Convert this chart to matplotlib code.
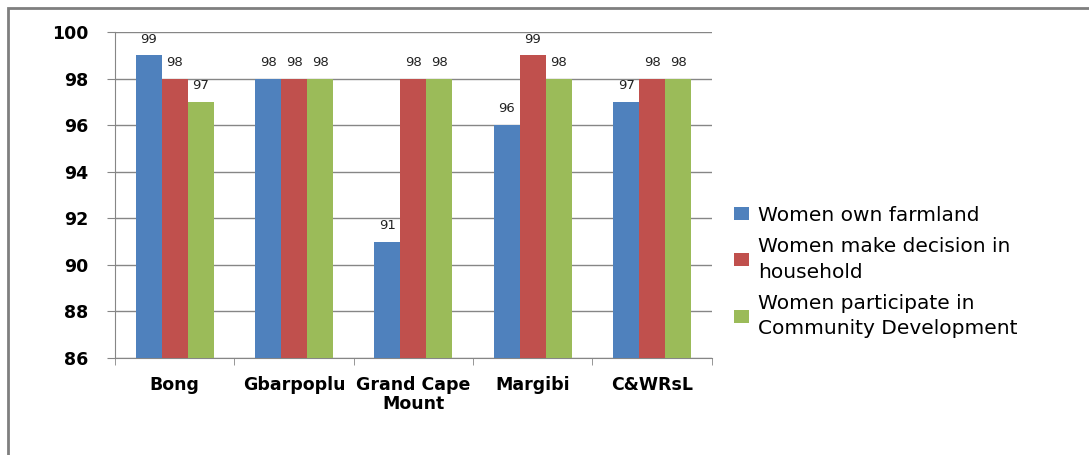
import numpy as np
import matplotlib.pyplot as plt
from matplotlib.patches import Rectangle, Patch

# data
regions = ['Bong', 'Gbarpoplu', 'Grand Cape\nMount', 'Margibi', 'C&WRsL']
own_farmland = [99, 98, 91, 96, 97]
make_decision = [98, 98, 98, 99, 98]
participate = [97, 98, 98, 98, 98]

series_names = ['Women own farmland',
                'Women make decision in\nhousehold',
                'Women participate in\nCommunity Development']
colors = ['#4F81BD', '#C0504D', '#9BBB59']


def main():
    fig = plt.figure(figsize=(10.89, 4.55), dpi=100)
    ax = fig.add_axes([0.1056, 0.2132, 0.548, 0.7165])

    # outer chart frame (right/bottom edges fall outside the image)
    fig.patches.append(Rectangle((8 / 1089, -0.1), 1.2, 1 - 8 / 455 + 0.1,
                                 transform=fig.transFigure, fill=False,
                                 edgecolor='#7F7F7F', linewidth=2))

    x = np.arange(len(regions))
    width = 0.218
    all_series = [own_farmland, make_decision, participate]
    for i, (vals, c) in enumerate(zip(all_series, colors)):
        pos = x + (i - 1) * width
        bars = ax.bar(pos, vals, width, color=c, zorder=3)
        for b, v in zip(bars, vals):
            ax.annotate(str(v), (b.get_x() + b.get_width() / 2, v),
                        xytext=(0, 7), textcoords='offset points',
                        ha='center', va='bottom', fontsize=9.5,
                        color='#222222')

    ax.set_ylim(86, 100)
    ax.set_yticks(np.arange(86, 101, 2))
    ax.set_xlim(-0.5, len(regions) - 0.5)
    ax.yaxis.grid(True, color='#868686', linewidth=1, zorder=0)

    ax.set_xticks(x)
    ax.set_xticklabels(regions, fontsize=12.5, fontweight='bold',
                       linespacing=1.05)
    ax.set_xticks(np.arange(-0.5, len(regions)), minor=True)
    ax.tick_params(axis='x', which='major', length=0, pad=13)
    ax.tick_params(axis='x', which='minor', length=5, color='#868686')
    ax.tick_params(axis='y', length=6, color='#868686', labelsize=12.5,
                   pad=13)
    for lab in ax.get_yticklabels():
        lab.set_fontweight('bold')

    for s in ['top', 'right']:
        ax.spines[s].set_visible(False)
    for s in ['left', 'bottom']:
        ax.spines[s].set_color('#868686')

    handles = [Patch(facecolor=c) for c in colors]
    leg = fig.legend(handles, series_names, loc='center left',
                     bbox_to_anchor=(0.657, 0.402), frameon=False,
                     fontsize=14.5, handlelength=0.75, handleheight=0.6,
                     handletextpad=0.45, labelspacing=0.6)
    for t in leg.get_texts():
        t.set_linespacing(1.45)

    fig.savefig('out.png', dpi=100)


if __name__ == "__main__":
    main()
